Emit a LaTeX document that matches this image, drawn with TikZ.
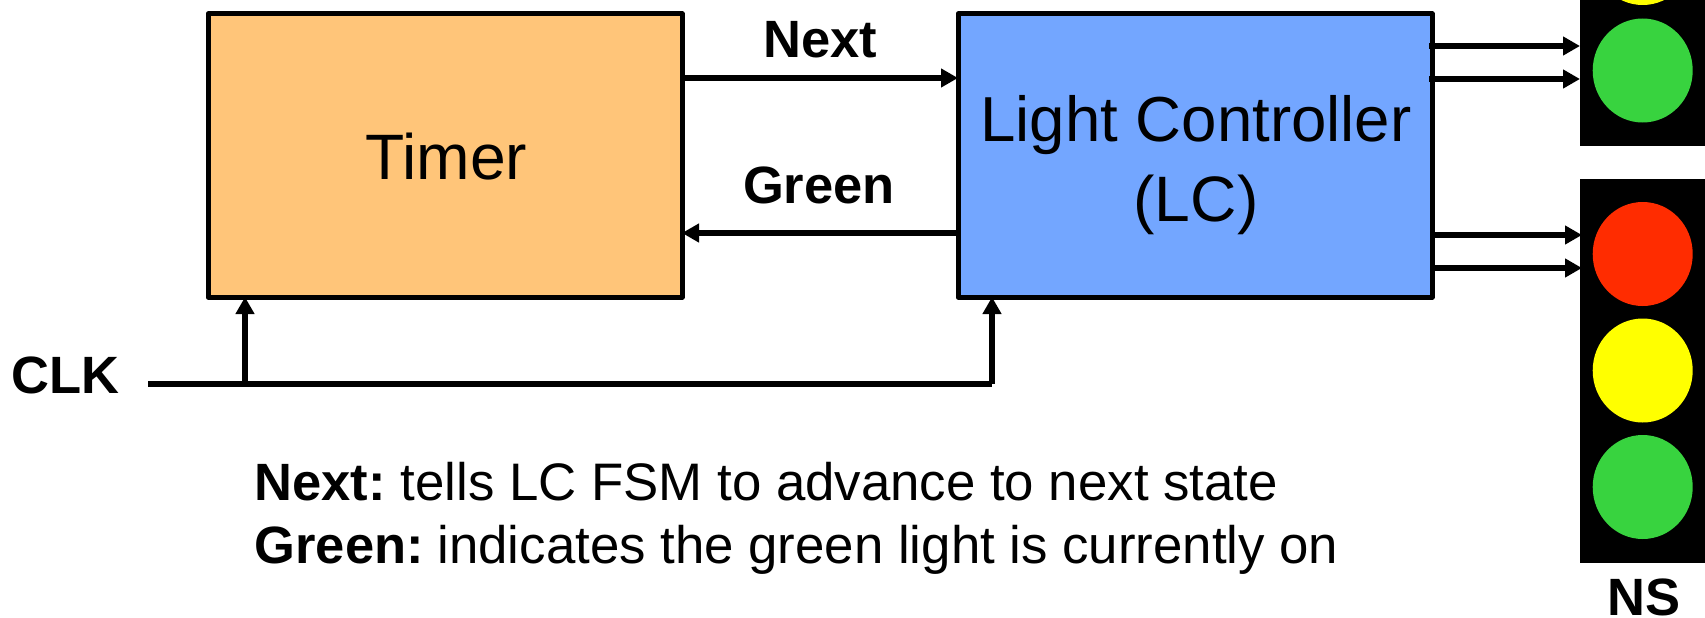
\documentclass[tikz,border=0pt]{standalone}
\usepackage{fontspec}
\setmainfont{Liberation Sans}
\usetikzlibrary{arrows.meta,shapes.geometric}
\definecolor{timerc}{HTML}{FFC579}
\definecolor{lcc}{HTML}{73A6FF}
\definecolor{lgreen}{HTML}{38D33F}
\definecolor{lred}{HTML}{FF2C00}
\definecolor{lyellow}{HTML}{FFFF00}
\tikzset{
  block/.style={draw=black,line width=5pt,line join=round,rectangle,inner sep=0pt,outer sep=0pt,align=center},
  wire/.style={draw=black,line width=6pt,-{Triangle[length=17pt,width=18pt]}},
  plainwire/.style={draw=black,line width=6pt},
  housing/.style={fill=black,rectangle,inner sep=0pt,outer sep=0pt,minimum width=125pt},
  lamp/.style={ellipse,inner sep=0pt,outer sep=0pt,minimum width=100pt,minimum height=104pt},
  blabel/.style={anchor=base,inner sep=0pt,font=\fontsize{52.5}{60}\selectfont\bfseries},
  blocktext/.style={anchor=base,inner sep=0pt,font=\fontsize{64.2}{75}\selectfont},
  lctext/.style={anchor=base,inner sep=0pt,font=\fontsize{63.6}{75}\selectfont},
  note/.style={anchor=base west,inner sep=0pt,font=\fontsize{52.8}{60}\selectfont},
}
\begin{document}
\begin{tikzpicture}[x=1pt,y=-1pt]
\useasboundingbox (0,0) rectangle (1705,618);
\clip (0,0) rectangle (1705,618);
\fill[white] (0,0) rectangle (1705,618);
% housings
\node[housing,minimum height=300pt] (ewbox) at (1642.5,-4) {};
\node[housing,minimum height=384pt] (nsbox) at (1642.5,370.5) {};
% lamps
\node[lamp,fill=lyellow] (ewy) at (1642.7,-47) {};
\node[lamp,fill=lgreen] (ewg) at (1642.7,70.5) {};
\node[lamp,fill=lred] (nsr) at (1642.7,254) {};
\node[lamp,fill=lyellow] (nsy) at (1642.7,370.5) {};
\node[lamp,fill=lgreen] (nsg) at (1642.7,487) {};
% blocks
\node[block,fill=timerc,minimum width=474pt,minimum height=283pt] (timer) at (445,155.5) {};
\node[block,fill=lcc,minimum width=474pt,minimum height=283pt] (lc) at (1195,155.5) {};
\node[blocktext] (timertext) at (446.5,179) {Timer};
\node[lctext] (lctext1) at (1196,141) {Light Controller};
\node[blocktext] (lctext2) at (1196,221) {(LC)};
% labels
\node[blabel] (next) at (820,57.5) {Next};
\node[blabel] (green) at (819,203) {Green};
\node[blabel,anchor=base west] (clk) at (11,393) {CLK};
\node[blabel] (ns) at (1644,615.5) {NS};
\node[note] (n1) at (254.5,500) {{\fontsize{52.5}{60}\selectfont\textbf{Next:}}\hspace{-5pt} tells LC FSM to advance to next state};
\node[note] (n2) at (254.5,563) {{\fontsize{52.5}{60}\selectfont\textbf{Green:}}\hspace{-6pt} indicates the green light is currently on};
% connectors
\draw[wire] (timer.east |- 0,78) -- (lc.west |- 0,78);
\draw[wire] (lc.west |- 0,233) -- (timer.east |- 0,233);
\draw[wire,shorten <=-3pt] (lc.east |- 0,46) -- (ewbox.west |- 0,46);
\draw[wire,shorten <=-3pt] (lc.east |- 0,79) -- (ewbox.west |- 0,79);
\draw[wire,shorten >=-2pt] (lc.east |- 0,235) -- (nsbox.west |- 0,235);
\draw[wire,shorten >=-2pt] (lc.east |- 0,268) -- (nsbox.west |- 0,268);
\coordinate (clkstart) at (148,383.5);
\coordinate (clkend) at (992,383.5);
\coordinate (clkj) at (245,383.5);
\draw[plainwire] (clkstart) -- (clkend);
\draw[wire] (clkj) -- (clkj |- timer.south);
\draw[wire] (clkend) -- (clkend |- lc.south);
\end{tikzpicture}
\end{document}
